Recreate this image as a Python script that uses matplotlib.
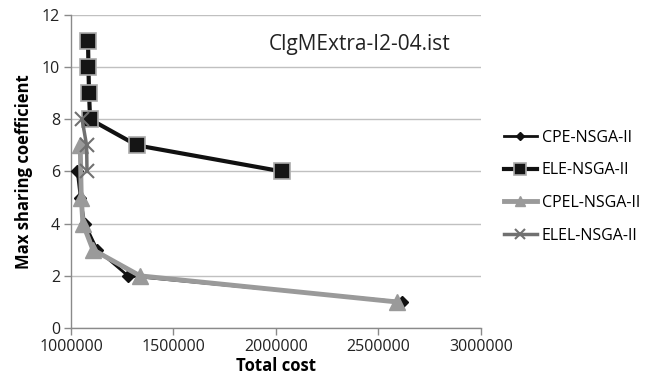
import matplotlib.pyplot as plt
from matplotlib.ticker import FixedLocator

plt.rcParams['font.family'] = ['Open Sans', 'DejaVu Sans']

# Pareto fronts: total cost vs max sharing coefficient
cpe_cost = [1030000, 1045000, 1068000, 1128000, 1278000, 2615000]
cpe_share = [6, 5, 4, 3, 2, 1]

ele_cost = [1083000, 1085000, 1088000, 1093000, 1322000, 2030000]
ele_share = [11, 10, 9, 8, 7, 6]

cpel_cost = [1045000, 1050000, 1058000, 1107000, 1337000, 2590000]
cpel_share = [7, 5, 4, 3, 2, 1]

elel_cost = [1054000, 1076000, 1078000]
elel_share = [8, 7, 6]

xticks = [1000000, 1500000, 2000000, 2500000, 3000000]
yticks = [0, 2, 4, 6, 8, 10, 12]

fig = plt.figure(figsize=(6.48, 3.81), dpi=100)
ax = fig.add_axes([0.1096, 0.139, 0.6324, 0.822])

ax.plot(cpe_cost, cpe_share, color='#111111', lw=2, marker='D', ms=6,
        label='CPE-NSGA-II', zorder=3)
ax.plot(ele_cost, ele_share, color='#111111', lw=3, marker='s', ms=12,
        mfc='#151515', mec='#aaaaaa', mew=1.2, label='ELE-NSGA-II', zorder=4)
ax.plot(cpel_cost, cpel_share, color='#9a9a9a', lw=3.5, marker='^', ms=11,
        label='CPEL-NSGA-II', zorder=5)
ax.plot(elel_cost, elel_share, color='#707070', lw=2.5, marker='x', ms=10,
        mew=1.5, label='ELEL-NSGA-II', zorder=6)

ax.set_xlim(1000000, 3000000)
ax.set_ylim(0, 12)
ax.xaxis.set_major_locator(FixedLocator(xticks))
ax.yaxis.set_major_locator(FixedLocator(yticks))
ax.set_xticklabels([str(v) for v in xticks])
ax.grid(axis='y', color='#c0c0c0', lw=1)
ax.set_axisbelow(True)

for s in ['top', 'right']:
    ax.spines[s].set_visible(False)
for s in ['left', 'bottom']:
    ax.spines[s].set_color('#8a8a8a')
    ax.spines[s].set_linewidth(1)
ax.tick_params(axis='both', colors='#8a8a8a', length=5, width=1,
               labelsize=11.5, labelcolor='#222222', pad=3)

ax.set_xlabel('Total cost', fontsize=12, fontweight='bold', labelpad=1)
ax.set_ylabel('Max sharing coefficient', fontsize=12, fontweight='bold',
              labelpad=6)

ax.text(0.925, 0.905, 'ClgMExtra-I2-04.ist', transform=ax.transAxes,
        fontsize=15, ha='right', va='center', color='#222222')

fig.legend(loc='center left', bbox_to_anchor=(0.755, 0.51), frameon=False,
           fontsize=11.5, handlelength=2.1, labelspacing=1.05,
           handletextpad=0.3, markerscale=0.7)

fig.savefig('out.png', dpi=100)
